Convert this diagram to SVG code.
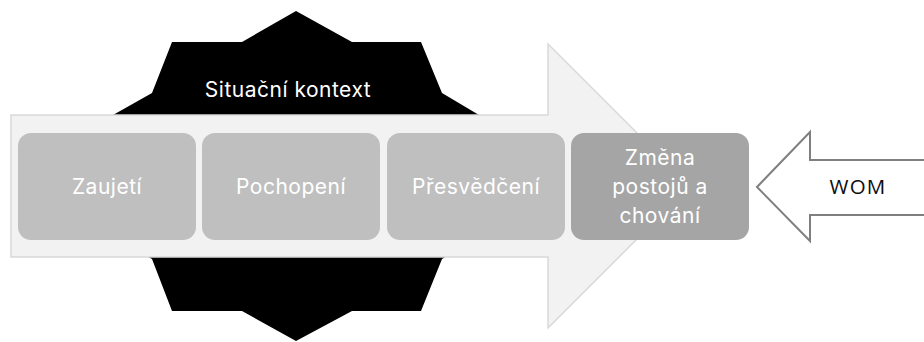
<svg xmlns="http://www.w3.org/2000/svg" width="924" height="342" viewBox="0 0 924 342">
  <style>
    .box { fill: #bfbfbf; }
    .box4 { fill: #a5a5a5; }
    .lbl { font-family: Inter, "Noto Sans", "Liberation Sans", sans-serif; font-size: 21px; letter-spacing: 0.5px; fill: #ffffff; text-anchor: middle; }
    .wom { font-family: "Open Sans", "DejaVu Sans", sans-serif; font-size: 20.5px; letter-spacing: 1.2px; fill: #0d0d0d; text-anchor: middle; }
  </style>
  <rect width="924" height="342" fill="#ffffff"/>
  <g id="context">
    <polygon fill="#000000" points="296,11 352,42 421,42 442,93 479,115 490,176 479,237 442,259 421,311 352,311 296,341 242,311 172,311 152,259 113,237 102,176 113,115 152,93 172,42 242,42"/>
    <text class="lbl" x="288" y="97">Situační kontext</text>
  </g>
  <g id="process-arrow">
    <polygon fill="#f2f2f2" stroke="#d9d9d9" stroke-width="1.5" points="11,115 548,115 548,44 690,186 548,328 548,257 11,257"/>
  </g>
  <g id="zaujeti">
    <rect class="box" x="18" y="133" width="178" height="107" rx="13"/>
    <text class="lbl" x="107" y="194">Zaujetí</text>
  </g>
  <g id="pochopeni">
    <rect class="box" x="202" y="133" width="178" height="107" rx="13"/>
    <text class="lbl" x="291" y="194">Pochopení</text>
  </g>
  <g id="presvedceni">
    <rect class="box" x="387" y="133" width="178" height="107" rx="13"/>
    <text class="lbl" x="476" y="194">Přesvědčení</text>
  </g>
  <g id="zmena">
    <rect class="box4" x="571" y="133" width="178" height="107" rx="13"/>
    <text class="lbl" x="660" y="164.5">Změna</text>
    <text class="lbl" x="660" y="193.5">postojů a</text>
    <text class="lbl" x="660" y="222.5">chování</text>
  </g>
  <g id="wom">
    <polygon fill="#ffffff" stroke="#7f7f7f" stroke-width="2" points="757,187 810,132 810,160 930,160 930,215 810,215 810,241"/>
    <text class="wom" x="858" y="194">WOM</text>
  </g>
  <g id="connectors"></g>
</svg>
